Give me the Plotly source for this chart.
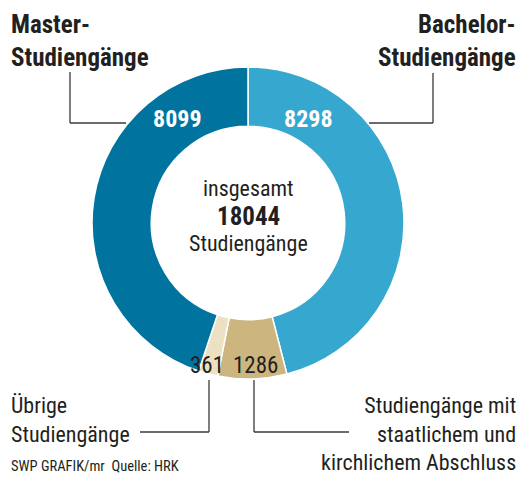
import plotly.graph_objects as go

W, H = 526, 477

categories = ["Bachelor-Studiengänge", "Studiengänge mit staatlichem und kirchlichem Abschluss",
              "Übrige Studiengänge", "Master-Studiengänge"]
values = [8298, 1286, 361, 8099]
colors = ["#36A8CF", "#CDB57F", "#ECE1C3", "#00749F"]
total = sum(values)

FONT = "Liberation Sans Narrow, Roboto Condensed, Roboto, sans-serif"
DARK = "#231F20"

def px(x):
    return x / W

def py(y):
    return 1 - y / H

cx, cy, R = 248, 223, 156

fig = go.Figure(go.Pie(
    labels=categories, values=values, sort=False, direction="clockwise", rotation=0,
    hole=0.62, marker=dict(colors=colors, line=dict(color="white", width=1.5)),
    textinfo="none", hoverinfo="label+value", showlegend=False,
    domain=dict(x=[px(cx - R), px(cx + R)], y=[py(cy + R), py(cy - R)]),
))

ann = []
def add(text, x, y, size, color=DARK, xanchor="center", yanchor="middle", align="center", bold=False):
    if bold:
        text = "<b>" + text + "</b>"
    ann.append(dict(text=text, x=px(x), y=py(y), xref="paper", yref="paper", showarrow=False,
                    xanchor=xanchor, yanchor=yanchor, align=align,
                    font=dict(family=FONT, size=size, color=color)))

# value labels
add(str(values[3]), 177, 119, 24, "white", bold=True)
add(str(values[0]), 308, 119, 24, "white", bold=True)
add(str(values[2]), 207, 365, 23)
add(str(values[1]), 255, 365, 23)

# centre
add("insgesamt", cx, 188, 22)
add(str(total), cx, 216, 25, bold=True)
add("Studiengänge", cx, 243, 22)

# category labels
add("Master-<br>Studiengänge", 9, 41, 25, xanchor="left", align="left", bold=True)
add("Bachelor-<br>Studiengänge", 518, 41, 25, xanchor="right", align="right", bold=True)
add("Übrige<br>Studiengänge", 9, 420, 22, xanchor="left", align="left")
add("Studiengänge mit<br>staatlichem und<br>kirchlichem Abschluss", 518, 434, 22,
    xanchor="right", align="right")
add("SWP GRAFIK/mr  Quelle: HRK", 9, 466, 14.5, xanchor="left", align="left")

shapes = []
def line(pts):
    for (x0, y0), (x1, y1) in zip(pts[:-1], pts[1:]):
        shapes.append(dict(type="line", xref="paper", yref="paper",
                           x0=px(x0), y0=py(y0), x1=px(x1), y1=py(y1),
                           line=dict(color="#3a3a3a", width=1.3)))

line([(70, 72), (70, 123), (126, 123)])
line([(369, 123), (433, 123), (433, 73)])
line([(209, 380), (209, 432), (140, 432)])
line([(254, 380), (254, 432), (349, 432)])

fig.update_layout(width=W, height=H, margin=dict(l=0, r=0, t=0, b=0),
                  paper_bgcolor="white", plot_bgcolor="white",
                  annotations=ann, shapes=shapes)

fig.write_html("out.html", config=dict(displayModeBar=False),
               post_script="document.body.style.margin='0';document.body.style.overflow='hidden';")
